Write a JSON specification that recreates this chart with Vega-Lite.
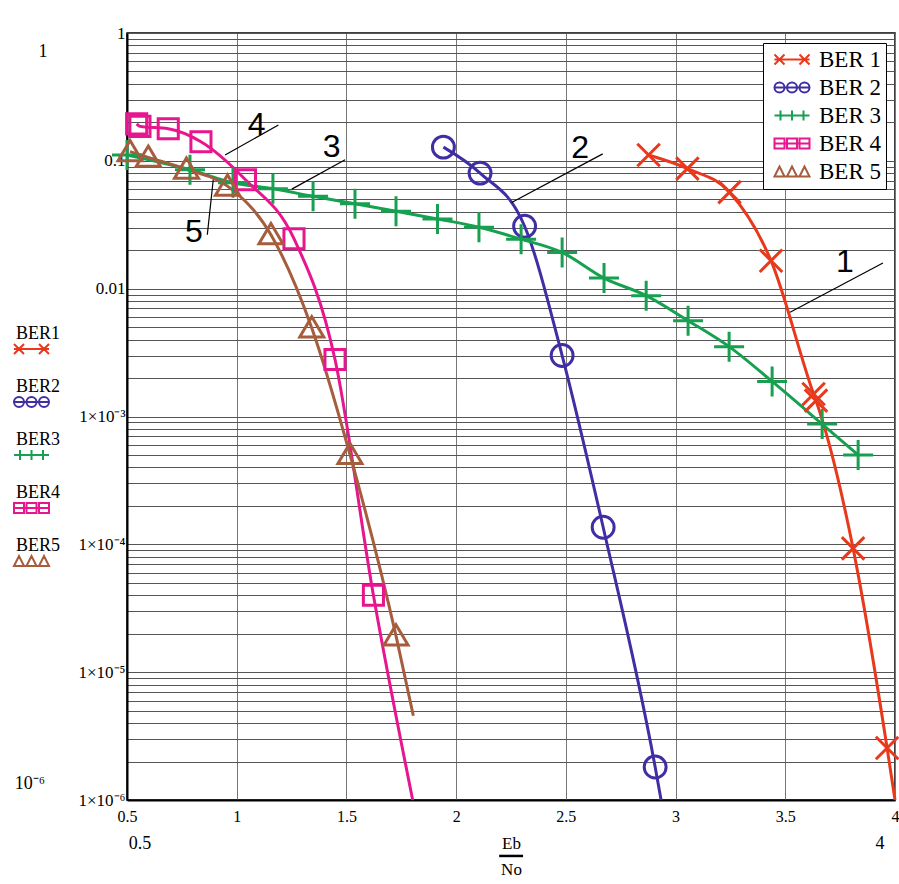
{
  "$schema": "https://vega.github.io/schema/vega-lite/v6.json",
  "width": 768,
  "height": 767,
  "autosize": {"type": "none"},
  "padding": {"left": 127, "top": 33, "right": 4, "bottom": 84},
  "background": "white",
  "config": {"view": {"stroke": "black", "strokeWidth": 1.5}, "font": "Liberation Serif"},
  "datasets": {
    "curves": [
      {"series": "BER 1", "x": 2.877, "y": 0.111, "m": 1},
      {"series": "BER 1", "x": 3.054, "y": 0.0869, "m": 1},
      {"series": "BER 1", "x": 3.246, "y": 0.0569, "m": 1},
      {"series": "BER 1", "x": 3.435, "y": 0.01655, "m": 1},
      {"series": "BER 1", "x": 3.629, "y": 0.0015, "m": 1},
      {"series": "BER 1", "x": 3.640, "y": 0.00133, "m": 1},
      {"series": "BER 1", "x": 3.809, "y": 0.000093, "m": 1},
      {"series": "BER 1", "x": 3.964, "y": 0.00000255, "m": 1},
      {"series": "BER 1", "x": 4.0, "y": 0.000001, "m": 0},
      {"series": "BER 2", "x": 1.942, "y": 0.128, "m": 1},
      {"series": "BER 2", "x": 2.109, "y": 0.0802, "m": 1},
      {"series": "BER 2", "x": 2.312, "y": 0.0308, "m": 1},
      {"series": "BER 2", "x": 2.483, "y": 0.0030, "m": 1},
      {"series": "BER 2", "x": 2.670, "y": 0.000136, "m": 1},
      {"series": "BER 2", "x": 2.907, "y": 0.00000181, "m": 1},
      {"series": "BER 2", "x": 2.934, "y": 0.000001, "m": 0},
      {"series": "BER 3", "x": 0.5, "y": 0.111, "m": 1},
      {"series": "BER 3", "x": 0.787, "y": 0.0851, "m": 1},
      {"series": "BER 3", "x": 0.983, "y": 0.0673, "m": 1},
      {"series": "BER 3", "x": 1.165, "y": 0.0604, "m": 1},
      {"series": "BER 3", "x": 1.348, "y": 0.0528, "m": 1},
      {"series": "BER 3", "x": 1.539, "y": 0.0461, "m": 1},
      {"series": "BER 3", "x": 1.726, "y": 0.0403, "m": 1},
      {"series": "BER 3", "x": 1.915, "y": 0.0351, "m": 1},
      {"series": "BER 3", "x": 2.104, "y": 0.0302, "m": 1},
      {"series": "BER 3", "x": 2.296, "y": 0.0244, "m": 1},
      {"series": "BER 3", "x": 2.483, "y": 0.0192, "m": 1},
      {"series": "BER 3", "x": 2.674, "y": 0.0121, "m": 1},
      {"series": "BER 3", "x": 2.866, "y": 0.00882, "m": 1},
      {"series": "BER 3", "x": 3.057, "y": 0.00562, "m": 1},
      {"series": "BER 3", "x": 3.244, "y": 0.00352, "m": 1},
      {"series": "BER 3", "x": 3.440, "y": 0.00188, "m": 1},
      {"series": "BER 3", "x": 3.668, "y": 0.000873, "m": 1},
      {"series": "BER 3", "x": 3.832, "y": 0.000500, "m": 1},
      {"series": "BER 4", "x": 0.544, "y": 0.1945, "m": 1},
      {"series": "BER 4", "x": 0.559, "y": 0.186, "m": 1},
      {"series": "BER 4", "x": 0.688, "y": 0.178, "m": 1},
      {"series": "BER 4", "x": 0.837, "y": 0.141, "m": 1},
      {"series": "BER 4", "x": 1.040, "y": 0.0711, "m": 1},
      {"series": "BER 4", "x": 1.261, "y": 0.0246, "m": 1},
      {"series": "BER 4", "x": 1.448, "y": 0.00279, "m": 1},
      {"series": "BER 4", "x": 1.623, "y": 0.000040, "m": 1},
      {"series": "BER 4", "x": 1.802, "y": 0.000001, "m": 0},
      {"series": "BER 5", "x": 0.514, "y": 0.118, "m": 1},
      {"series": "BER 5", "x": 0.597, "y": 0.1065, "m": 1},
      {"series": "BER 5", "x": 0.771, "y": 0.0859, "m": 1},
      {"series": "BER 5", "x": 0.958, "y": 0.0634, "m": 1},
      {"series": "BER 5", "x": 1.156, "y": 0.0264, "m": 1},
      {"series": "BER 5", "x": 1.342, "y": 0.00493, "m": 1},
      {"series": "BER 5", "x": 1.516, "y": 0.000505, "m": 1},
      {"series": "BER 5", "x": 1.726, "y": 0.0000192, "m": 1},
      {"series": "BER 5", "x": 1.805, "y": 0.00000456, "m": 0}
    ],
    "notes": [
      {"label": "4", "x": 1.091, "y": 0.191},
      {"label": "3", "x": 1.433, "y": 0.129},
      {"label": "5", "x": 0.805, "y": 0.028},
      {"label": "2", "x": 2.565, "y": 0.1257},
      {"label": "1", "x": 3.772, "y": 0.0163}
    ],
    "leaders": [
      {"x": 1.190, "y": 0.191, "x2": 0.947, "y2": 0.111},
      {"x": 1.494, "y": 0.1018, "x2": 1.251, "y2": 0.0601},
      {"x": 0.866, "y": 0.0264, "x2": 0.893, "y2": 0.0711},
      {"x": 2.668, "y": 0.1134, "x2": 2.253, "y2": 0.0472},
      {"x": 3.945, "y": 0.0159, "x2": 3.522, "y2": 0.00653}
    ],
    "fractionbar": [
      {"x": 2.196, "y": 0.000000365, "x2": 2.305, "y2": 0.000000365}
    ],
    "extras": [
      {"label": "1", "x": 0.117, "y": 0.711},
      {"label": "10⁻⁶", "x": 0.058, "y": 0.00000133},
      {"label": "0.5", "x": 0.559, "y": 0.000000453},
      {"label": "4", "x": 3.932, "y": 0.000000453}
    ]
  },
  "layer": [
    {
      "data": {"name": "curves"},
      "mark": {"type": "line", "strokeWidth": 3, "interpolate": "monotone"},
      "encoding": {
        "x": {
          "field": "x", "type": "quantitative",
          "scale": {"domain": [0.5, 4], "nice": false, "zero": false},
          "axis": {
            "values": [0.5, 1, 1.5, 2, 2.5, 3, 3.5, 4],
            "format": "~g",
            "grid": true, "gridColor": "#777", "gridWidth": 1,
            "tickSize": 0, "labelPadding": 8, "labelFlush": false, "labelOverlap": false,
            "labelFont": "Liberation Serif", "labelFontSize": 16, "labelColor": "black",
            "domainColor": "black", "domainWidth": 2,
            "title": ["Eb", "No"],
            "titleFont": "Liberation Serif", "titleFontSize": 17, "titleFontWeight": "normal",
            "titleColor": "black", "titlePadding": 11, "titleLineHeight": 26
          }
        },
        "y": {
          "field": "y", "type": "quantitative",
          "scale": {"type": "log", "domain": [0.000001, 1], "nice": false},
          "axis": {
            "values": [0.000001,0.000002,0.000003,0.000004,0.000005,0.000006,0.000007,0.000008,0.000009,0.00001,0.00002,0.00003,0.00004,0.00005,0.00006,0.00007,0.00008,0.00009,0.0001,0.0002,0.0003,0.0004,0.0005,0.0006,0.0007,0.0008,0.0009,0.001,0.002,0.003,0.004,0.005,0.006,0.007,0.008,0.009,0.01,0.02,0.03,0.04,0.05,0.06,0.07,0.08,0.09,0.1,0.2,0.3,0.4,0.5,0.6,0.7,0.8,0.9,1],
            "labelExpr": "abs(log(datum.value)/LN10 - round(log(datum.value)/LN10)) > 0.01 ? '' : round(log(datum.value)/LN10) == 0 ? '1' : round(log(datum.value)/LN10) == -1 ? '0.1' : round(log(datum.value)/LN10) == -2 ? '0.01' : round(log(datum.value)/LN10) == -3 ? '1×10⁻³' : round(log(datum.value)/LN10) == -4 ? '1×10⁻⁴' : round(log(datum.value)/LN10) == -5 ? '1×10⁻⁵' : '1×10⁻⁶'",
            "grid": true, "gridColor": "#555", "gridWidth": 1,
            "tickSize": 0, "labelPadding": 2, "labelOverlap": false, "labelFlush": false,
            "labelFont": "Liberation Serif", "labelFontSize": 17, "labelColor": "black",
            "domainColor": "black", "domainWidth": 2,
            "title": null
          }
        },
        "color": {
          "field": "series", "type": "nominal",
          "scale": {"domain": ["BER 1", "BER 2", "BER 3", "BER 4", "BER 5"], "range": ["#e8391c", "#3f2ea4", "#17a050", "#e8168e", "#a65d3e"]},
          "legend": {
            "orient": "none", "legendX": -117, "legendY": 307, "title": null,
            "labelExpr": "replace(datum.label, ' ', '')",
            "labelFont": "Liberation Serif", "labelFontSize": 18, "labelColor": "black",
            "symbolSize": 100, "labelOffset": -12, "rowPadding": 20, "padding": 0,
            "encode": {
              "symbols": {"update": {
                "shape": {"signal": "datum.value === 'BER 1' ? 'M-1,0L6,0M-1,-1L1,1M-1,1L1,-1M4,-1L6,1M4,1L6,-1' : datum.value === 'BER 2' ? 'M-1,0L6,0M-1,0A1,1,0,1,1,1,0A1,1,0,1,1,-1,0M1.5,0A1,1,0,1,1,3.5,0A1,1,0,1,1,1.5,0M4,0A1,1,0,1,1,6,0A1,1,0,1,1,4,0' : datum.value === 'BER 3' ? 'M-1,0L6,0M0.2,-1L0.2,1M2.5,-1L2.5,1M4.8,-1L4.8,1' : datum.value === 'BER 4' ? 'M-1,0L6,0M-1,-1L1,-1L1,1L-1,1ZM1.5,-1L3.5,-1L3.5,1L1.5,1ZM4,-1L6,-1L6,1L4,1Z' : 'M-1,1L6,1M-1,1L0,-1L1,1ZM1.5,1L2.5,-1L3.5,1ZM4,1L5,-1L6,1Z'"},
                "strokeWidth": {"value": 2},
                "fill": {"value": "transparent"},
                "stroke": {"scale": "color", "field": "value"}
              }},
              "labels": {"update": {"dy": {"value": -15}}}
            }
          }
        }
      }
    },
    {
      "data": {"name": "curves"},
      "transform": [{"filter": "datum.m == 1"}],
      "mark": {"type": "point", "filled": false, "strokeWidth": 3, "size": 900, "opacity": 1},
      "encoding": {
        "x": {"field": "x", "type": "quantitative"},
        "y": {"field": "y", "type": "quantitative"},
        "color": {"field": "series", "type": "nominal", "legend": null},
        "shape": {
          "field": "series", "type": "nominal",
          "scale": {"domain": ["BER 1", "BER 2", "BER 3", "BER 4", "BER 5"], "range": ["M-0.75,-0.75L0.75,0.75M-0.75,0.75L0.75,-0.75", "M-0.73,0A0.73,0.73,0,1,1,0.73,0A0.73,0.73,0,1,1,-0.73,0", "M-1,0L1,0M0,-1L0,1", "M-0.67,-0.67L0.67,-0.67L0.67,0.67L-0.67,0.67Z", "M0,-0.75L0.8,0.6L-0.8,0.6Z"]},
          "legend": null
        }
      }
    },
    {
      "data": {"name": "curves"},
      "transform": [{"filter": "datum.m == 9"}],
      "mark": {"type": "line", "strokeWidth": 2},
      "encoding": {
        "x": {"field": "x", "type": "quantitative"},
        "y": {"field": "y", "type": "quantitative"},
        "color": {
          "field": "series", "type": "nominal",
          "legend": {
            "orient": "none", "legendX": 636, "legendY": 10, "title": null,
            "labelFont": "Liberation Serif", "labelFontSize": 23, "labelColor": "black",
            "symbolSize": 100, "labelOffset": 28, "rowPadding": 4, "padding": 5,
            "strokeColor": "black", "fillColor": "white",
            "encode": {
              "symbols": {"update": {
                "shape": {"signal": "datum.value === 'BER 1' ? 'M-1,0L6,0M-1,-1L1,1M-1,1L1,-1M4,-1L6,1M4,1L6,-1' : datum.value === 'BER 2' ? 'M-1,0L6,0M-1,0A1,1,0,1,1,1,0A1,1,0,1,1,-1,0M1.5,0A1,1,0,1,1,3.5,0A1,1,0,1,1,1.5,0M4,0A1,1,0,1,1,6,0A1,1,0,1,1,4,0' : datum.value === 'BER 3' ? 'M-1,0L6,0M0.2,-1L0.2,1M2.5,-1L2.5,1M4.8,-1L4.8,1' : datum.value === 'BER 4' ? 'M-1,0L6,0M-1,-1L1,-1L1,1L-1,1ZM1.5,-1L3.5,-1L3.5,1L1.5,1ZM4,-1L6,-1L6,1L4,1Z' : 'M-1,1L6,1M-1,1L0,-1L1,1ZM1.5,1L2.5,-1L3.5,1ZM4,1L5,-1L6,1Z'"},
                "strokeWidth": {"value": 2},
                "fill": {"value": "transparent"},
                "stroke": {"scale": "color", "field": "value"}
              }}
            }
          }
        }
      }
    },
    {
      "data": {"name": "leaders"},
      "mark": {"type": "rule", "color": "black", "strokeWidth": 1.2},
      "encoding": {
        "x": {"field": "x", "type": "quantitative"},
        "y": {"field": "y", "type": "quantitative"},
        "x2": {"field": "x2"},
        "y2": {"field": "y2"}
      }
    },
    {
      "data": {"name": "fractionbar"},
      "mark": {"type": "rule", "color": "black", "strokeWidth": 2.5},
      "encoding": {
        "x": {"field": "x", "type": "quantitative"},
        "y": {"field": "y", "type": "quantitative"},
        "x2": {"field": "x2"},
        "y2": {"field": "y2"}
      }
    },
    {
      "data": {"name": "notes"},
      "mark": {"type": "text", "font": "Liberation Sans", "fontSize": 32, "color": "black", "align": "center", "baseline": "middle"},
      "encoding": {
        "x": {"field": "x", "type": "quantitative"},
        "y": {"field": "y", "type": "quantitative"},
        "text": {"field": "label"}
      }
    },
    {
      "data": {"name": "extras"},
      "mark": {"type": "text", "font": "Liberation Serif", "fontSize": 18, "color": "black", "align": "center", "baseline": "middle"},
      "encoding": {
        "x": {"field": "x", "type": "quantitative"},
        "y": {"field": "y", "type": "quantitative"},
        "text": {"field": "label"}
      }
    }
  ],
  "resolve": {"legend": {"color": "independent"}}
}
